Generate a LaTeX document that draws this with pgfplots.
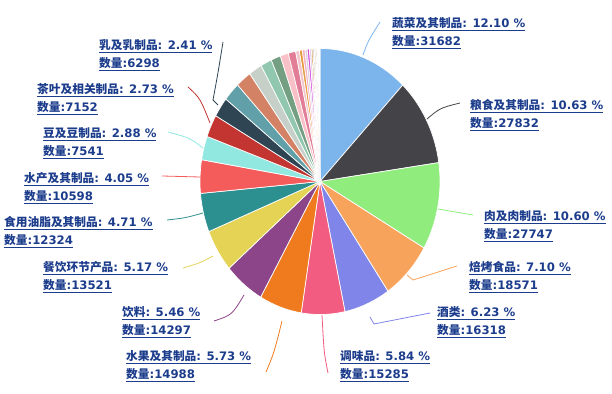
\documentclass[border=0pt]{standalone}
\usepackage{pgfplots}
\pgfplotsset{compat=1.18}
\usepackage{fontspec}
\setmainfont{DejaVu Sans}
\newfontfamily\cjk{Noto Sans CJK SC}
\definecolor{lblc}{RGB}{28,60,140}
\definecolor{c1}{HTML}{7CB5EC}
\definecolor{c2}{HTML}{434348}
\definecolor{c3}{HTML}{90ED7D}
\definecolor{c4}{HTML}{F7A35C}
\definecolor{c5}{HTML}{8085E9}
\definecolor{c6}{HTML}{F15C80}
\definecolor{c7}{HTML}{EF7B1E}
\definecolor{c8}{HTML}{8C4589}
\definecolor{c9}{HTML}{E4D354}
\definecolor{c10}{HTML}{2B908F}
\definecolor{c11}{HTML}{F45B5B}
\definecolor{c12}{HTML}{91E8E1}
\definecolor{c13}{HTML}{C23531}
\definecolor{c14}{HTML}{2F4554}
\definecolor{s1}{HTML}{61A0A8}
\definecolor{s2}{HTML}{D48265}
\definecolor{s3}{HTML}{C6D0C8}
\definecolor{s4}{HTML}{91C7AE}
\definecolor{s5}{HTML}{749F83}
\definecolor{s6}{HTML}{F8C1C8}
\definecolor{s7}{HTML}{E27D97}
\definecolor{t1}{HTML}{F2C6CE}
\definecolor{t2}{HTML}{E69A3C}
\definecolor{t3}{HTML}{F4B0C0}
\definecolor{t4}{HTML}{D9D0E0}
\definecolor{t5}{HTML}{D24FD8}
\definecolor{t6}{HTML}{E8C8E8}
\definecolor{t7}{HTML}{D08A30}
\definecolor{t8}{HTML}{C8C8C8}
\definecolor{t9}{HTML}{E8D8B8}
\definecolor{t10}{HTML}{B0A8C8}
\definecolor{t11}{HTML}{E0A040}
\definecolor{t12}{HTML}{D0D0D0}
\definecolor{t13}{HTML}{C0C0C0}
\definecolor{t14}{HTML}{D8D8E0}
% slice: start percent, end percent, colour
\newcommand\pieslice[3]{%
  \addplot[fill=#3, draw=white, line width=0.7pt, domain={90-3.6*(#2)}:{90-3.6*(#1)}, samples=40, variable=\t]
    ({320+120*cos(\t)},{211.5+133*sin(\t)}) -- (axis cs:320,211.5) -- cycle;
}
\newcommand\lbl[5]{%
  \node[anchor=west, align=left, inner sep=0pt, text=lblc, font=\fontsize{11.7}{18}\selectfont\bfseries]
    at (axis cs:#1,#2) {\underline{{\cjk #3}: #4 \%}\\\underline{{\cjk 数量}:#5}};
}
\begin{document}
\begin{tikzpicture}
\begin{axis}[width=612pt, height=393pt, scale only axis,
  xmin=0, xmax=612, ymin=0, ymax=393, axis lines=none, clip=false]
\path (axis cs:0,0) rectangle (axis cs:612,393);
\pieslice{0}{12.10}{c1}
\pieslice{12.10}{22.73}{c2}
\pieslice{22.73}{33.33}{c3}
\pieslice{33.33}{40.43}{c4}
\pieslice{40.43}{46.66}{c5}
\pieslice{46.66}{52.50}{c6}
\pieslice{52.50}{58.23}{c7}
\pieslice{58.23}{63.69}{c8}
\pieslice{63.69}{68.86}{c9}
\pieslice{68.86}{73.57}{c10}
\pieslice{73.57}{77.62}{c11}
\pieslice{77.62}{80.50}{c12}
\pieslice{80.50}{83.23}{c13}
\pieslice{83.23}{85.64}{c14}
\pieslice{85.64}{87.94}{s1}
\pieslice{87.94}{90.04}{s2}
\pieslice{90.04}{91.84}{s3}
\pieslice{91.84}{93.34}{s4}
\pieslice{93.34}{94.64}{s5}
\pieslice{94.64}{95.74}{s6}
\pieslice{95.74}{96.74}{s7}
\pieslice{96.74}{97.24}{t1}
\pieslice{97.24}{97.64}{t2}
\pieslice{97.64}{97.99}{t3}
\pieslice{97.99}{98.29}{t4}
\pieslice{98.29}{98.59}{t5}
\pieslice{98.59}{98.84}{t6}
\pieslice{98.84}{99.04}{t7}
\pieslice{99.04}{99.24}{t8}
\pieslice{99.24}{99.42}{t9}
\pieslice{99.42}{99.57}{t10}
\pieslice{99.57}{99.69}{t11}
\pieslice{99.69}{99.79}{t12}
\pieslice{99.79}{99.87}{t13}
\pieslice{99.87}{100}{t14}
% leader lines
\draw[c1, line width=0.8pt] (axis cs:363,338) .. controls (axis cs:368,352) .. (axis cs:380,371);
\draw[c2, line width=0.8pt] (axis cs:427,274) .. controls (axis cs:440,285) .. (axis cs:460,290);
\draw[c3, line width=0.8pt] (axis cs:438,184) -- (axis cs:473,178);
\draw[c4, line width=0.8pt] (axis cs:407,118) -- (axis cs:413,113) -- (axis cs:457,127);
\draw[c5, line width=0.8pt] (axis cs:370,76) -- (axis cs:374,69) -- (axis cs:430,80);
\draw[c6, line width=0.8pt] (axis cs:322,78) .. controls (axis cs:324,40) .. (axis cs:328,20);
\draw[c7, line width=0.8pt] (axis cs:282,72) .. controls (axis cs:274,40) .. (axis cs:266,21);
\draw[c8, line width=0.8pt] (axis cs:244,98) .. controls (axis cs:232,78) .. (axis cs:214,72);
\draw[c9, line width=0.8pt] (axis cs:213,137) .. controls (axis cs:200,130) .. (axis cs:183,125);
\draw[c10, line width=0.8pt] (axis cs:203,180) .. controls (axis cs:185,175) .. (axis cs:167,173);
\draw[c11, line width=0.8pt] (axis cs:200,216) -- (axis cs:162,217);
\draw[c12, line width=0.8pt] (axis cs:203,245) .. controls (axis cs:190,255) .. (axis cs:168,261);
\draw[c13, line width=0.8pt] (axis cs:210,270) .. controls (axis cs:200,295) .. (axis cs:188,306);
\draw[c14, line width=0.8pt] (axis cs:218,288) -- (axis cs:213,293) .. controls (axis cs:218,320) .. (axis cs:223,351);
% labels
\lbl{392}{360}{蔬菜及其制品}{12.10}{31682}
\lbl{470}{278}{粮食及其制品}{10.63}{27832}
\lbl{484}{167}{肉及肉制品}{10.60}{27747}
\lbl{469}{116}{焙烤食品}{7.10}{18571}
\lbl{437}{71}{酒类}{6.23}{16318}
\lbl{340}{27}{调味品}{5.84}{15285}
\lbl{126}{27}{水果及其制品}{5.73}{14988}
\lbl{122}{71}{饮料}{5.46}{14297}
\lbl{43}{116}{餐饮环节产品}{5.17}{13521}
\lbl{4}{161}{食用油脂及其制品}{4.71}{12324}
\lbl{24}{205}{水产及其制品}{4.05}{10598}
\lbl{43}{250}{豆及豆制品}{2.88}{7541}
\lbl{37}{294}{茶叶及相关制品}{2.73}{7152}
\lbl{99}{338}{乳及乳制品}{2.41}{6298}
\end{axis}
\end{tikzpicture}
\end{document}
